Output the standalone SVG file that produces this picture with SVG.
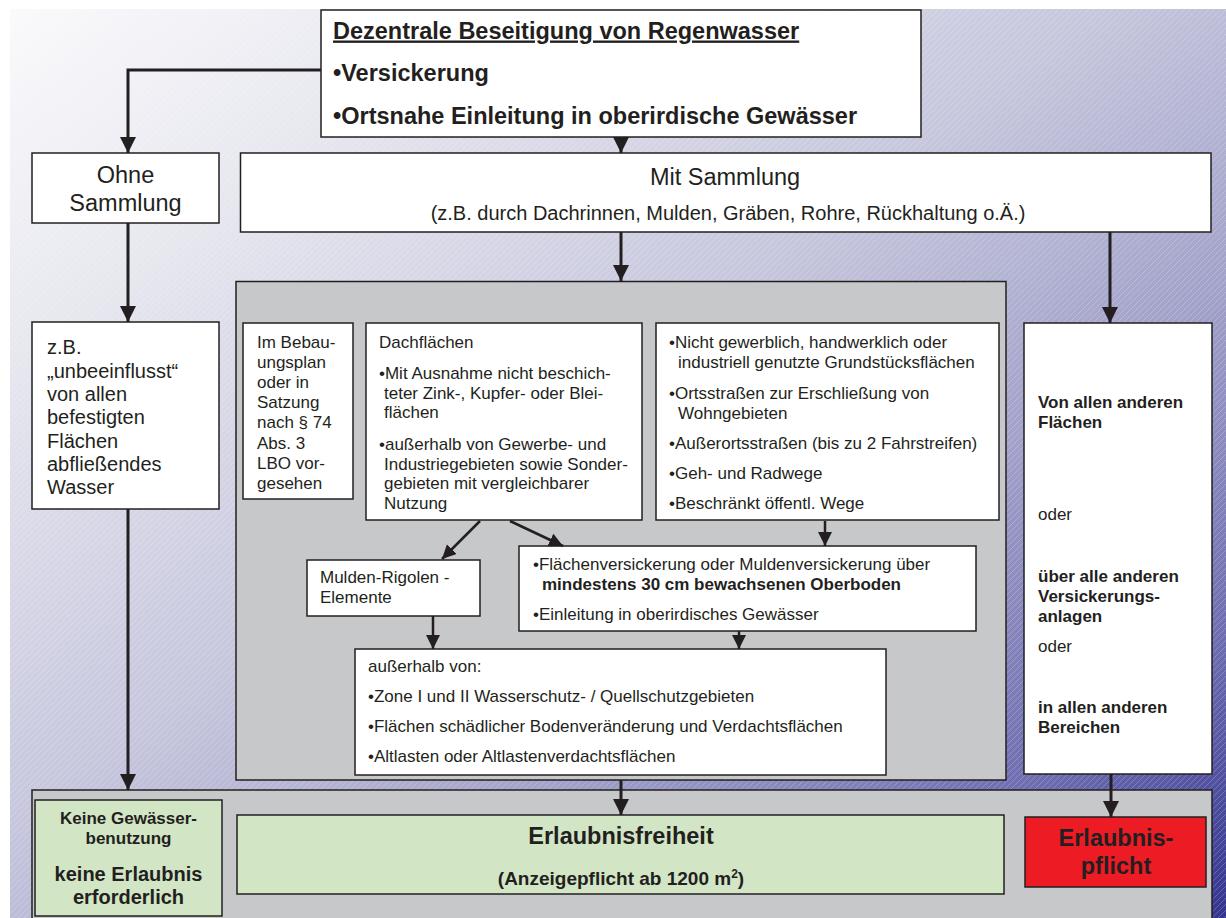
<svg xmlns="http://www.w3.org/2000/svg" width="1226" height="918" viewBox="0 0 1226 918">
<defs>
<linearGradient id="bgGrad" x1="0" y1="0" x2="1" y2="1">
<stop offset="0" stop-color="#fafafc"/>
<stop offset="0.2" stop-color="#e6e6ef"/>
<stop offset="0.45" stop-color="#c6c6dd"/>
<stop offset="0.65" stop-color="#a2a2ca"/>
<stop offset="0.85" stop-color="#6c6cb0"/>
<stop offset="1" stop-color="#34348f"/>
</linearGradient>
<pattern id="stripes" width="6" height="6" patternUnits="userSpaceOnUse">
<path d="M-1,1 L1,-1 M0,6 L6,0 M5,7 L7,5" stroke="#ffffff" stroke-opacity="0.3" stroke-width="0.7"/>
</pattern>
<marker id="arr" markerUnits="userSpaceOnUse" markerWidth="17" markerHeight="17" refX="16" refY="8" orient="auto" viewBox="0 0 17 17">
<path d="M0,0 L16,8 L0,16 z" fill="#231f20"/>
</marker>
<marker id="arrs" markerUnits="userSpaceOnUse" markerWidth="15" markerHeight="15" refX="14" refY="7" orient="auto" viewBox="0 0 15 15">
<path d="M0,0 L14,7 L0,14 z" fill="#231f20"/>
</marker>
<style>
.box{fill:#ffffff;stroke:#231f20;stroke-width:1.5}
.gray{fill:#c7c8ca;stroke:#231f20;stroke-width:1.5}
.green{fill:#d2e6c5;stroke:#231f20;stroke-width:1.5}
.red{fill:#ed1c24;stroke:#231f20;stroke-width:1.5}
text{font-family:"Liberation Sans",Arial,Helvetica,sans-serif;fill:#231f20}
.s{font-size:17px}
.m{font-size:20px}
.l{font-size:23.5px}
.b{font-weight:bold}
.c{text-anchor:middle}
.con{stroke:#231f20;stroke-width:3;fill:none}
.con2{stroke:#231f20;stroke-width:2.5;fill:none}
</style>
</defs>

<rect x="0" y="0" width="1226" height="918" fill="#ffffff"/>
<rect x="10" y="9" width="1216" height="909" fill="url(#bgGrad)"/>
<rect x="10" y="9" width="1216" height="909" fill="url(#stripes)"/>

<g id="panel-middle">
<rect class="gray" x="236" y="281.5" width="770" height="498.5"/>
</g>
<g id="panel-bottom">
<rect class="gray" x="32" y="790" width="1180" height="140"/>
</g>

<g id="node-top">
<rect class="box" x="321" y="10" width="600" height="127"/>
<text class="l b" x="333" y="38.5" text-decoration="underline">Dezentrale Beseitigung von Regenwasser</text>
<text class="l b" x="333" y="81">•Versickerung</text>
<text class="l b" x="333" y="124">•Ortsnahe Einleitung in oberirdische Gewässer</text>
</g>

<g id="node-ohne">
<rect class="box" x="32" y="153" width="187" height="70"/>
<text class="l c" x="125.5" y="183">Ohne</text>
<text class="l c" x="125.5" y="211">Sammlung</text>
</g>

<g id="node-mit">
<rect class="box" x="240.5" y="153" width="970.5" height="79"/>
<text class="l c" x="725" y="185">Mit Sammlung</text>
<text class="m c" x="728" y="220">(z.B. durch Dachrinnen, Mulden, Gräben, Rohre, Rückhaltung o.Ä.)</text>
</g>

<g id="node-zb">
<rect class="box" x="32" y="322" width="187" height="187"/>
<text class="m" x="47" y="354">z.B.</text>
<text class="m" x="47" y="378">„unbeeinflusst“</text>
<text class="m" x="47" y="401">von allen</text>
<text class="m" x="47" y="424">befestigten</text>
<text class="m" x="47" y="448">Flächen</text>
<text class="m" x="47" y="471">abfließendes</text>
<text class="m" x="47" y="494">Wasser</text>
</g>

<g id="node-bebauungsplan">
<rect class="box" x="243" y="323" width="110" height="176"/>
<text class="s" x="257" y="347.5">Im Bebau-</text>
<text class="s" x="257" y="367.7">ungsplan</text>
<text class="s" x="257" y="387.9">oder in</text>
<text class="s" x="257" y="408.1">Satzung</text>
<text class="s" x="257" y="428.3">nach § 74</text>
<text class="s" x="257" y="448.5">Abs. 3</text>
<text class="s" x="257" y="468.7">LBO vor-</text>
<text class="s" x="257" y="489">gesehen</text>
</g>

<g id="node-dachflaechen">
<rect class="box" x="366" y="323" width="276" height="197"/>
<text class="s" x="379" y="347.5">Dachflächen</text>
<text class="s" x="379" y="379">•Mit Ausnahme nicht beschich-</text>
<text class="s" x="384" y="398.5">teter Zink-, Kupfer- oder Blei-</text>
<text class="s" x="384" y="418">flächen</text>
<text class="s" x="379" y="450">•außerhalb von Gewerbe- und</text>
<text class="s" x="384" y="469.5">Industriegebieten sowie Sonder-</text>
<text class="s" x="384" y="489">gebieten mit vergleichbarer</text>
<text class="s" x="384" y="508.5">Nutzung</text>
</g>

<g id="node-grundstuecke">
<rect class="box" x="656" y="323" width="343" height="197"/>
<text class="s" x="669" y="348">•Nicht gewerblich, handwerklich oder</text>
<text class="s" x="678" y="368">industriell genutzte Grundstücksflächen</text>
<text class="s" x="669" y="398.5">•Ortsstraßen zur Erschließung von</text>
<text class="s" x="678" y="418.5">Wohngebieten</text>
<text class="s" x="669" y="449">•Außerortsstraßen (bis zu 2 Fahrstreifen)</text>
<text class="s" x="669" y="479">•Geh- und Radwege</text>
<text class="s" x="669" y="509">•Beschränkt öffentl. Wege</text>
</g>

<g id="node-mulden-rigolen">
<rect class="box" x="307" y="560" width="173" height="56"/>
<text class="s" x="320" y="583">Mulden-Rigolen -</text>
<text class="s" x="320" y="603">Elemente</text>
</g>

<g id="node-flaechenversickerung">
<rect class="box" x="519" y="546" width="457" height="85"/>
<text class="s" x="533" y="570">•Flächenversickerung oder Muldenversickerung über</text>
<text class="s b" x="542" y="589.5">mindestens 30 cm bewachsenen Oberboden</text>
<text class="s" x="533" y="619.5">•Einleitung in oberirdisches Gewässer</text>
</g>

<g id="node-ausserhalb">
<rect class="box" x="355" y="649" width="531" height="126"/>
<text class="s" x="368" y="672">außerhalb von:</text>
<text class="s" x="368" y="702">•Zone I und II Wasserschutz- / Quellschutzgebieten</text>
<text class="s" x="368" y="732">•Flächen schädlicher Bodenveränderung und Verdachtsflächen</text>
<text class="s" x="368" y="762">•Altlasten oder Altlastenverdachtsflächen</text>
</g>

<g id="node-andere">
<rect class="box" x="1024" y="323" width="188" height="451"/>
<text class="s b" x="1038" y="408">Von allen anderen</text>
<text class="s b" x="1038" y="428">Flächen</text>
<text class="s" x="1038" y="520">oder</text>
<text class="s b" x="1038" y="582">über alle anderen</text>
<text class="s b" x="1038" y="602">Versickerungs-</text>
<text class="s b" x="1038" y="622">anlagen</text>
<text class="s" x="1038" y="652">oder</text>
<text class="s b" x="1038" y="713">in allen anderen</text>
<text class="s b" x="1038" y="733">Bereichen</text>
</g>

<g id="node-keine">
<rect class="green" x="35" y="800" width="187" height="116"/>
<text class="s b c" x="128.5" y="824">Keine Gewässer-</text>
<text class="s b c" x="128.5" y="844">benutzung</text>
<text class="m b c" x="128.5" y="881">keine Erlaubnis</text>
<text class="m b c" x="128.5" y="904">erforderlich</text>
</g>

<g id="node-erlaubnisfreiheit">
<rect class="green" x="237" y="815" width="767" height="79"/>
<text class="l b c" x="621" y="844">Erlaubnisfreiheit</text>
<text class="b c" font-size="19" x="621" y="885">(Anzeigepflicht ab 1200 m<tspan font-size="12" dy="-7">2</tspan><tspan dy="7">)</tspan></text>
</g>

<g id="node-erlaubnispflicht">
<rect class="red" x="1025" y="817" width="181" height="70"/>
<text class="l b c" x="1116" y="846">Erlaubnis-</text>
<text class="l b c" x="1116" y="874">pflicht</text>
</g>

<g id="connectors">
<polyline class="con" points="321,70 128,70 128,153" marker-end="url(#arr)"/>
<line class="con" x1="621" y1="137" x2="621" y2="153" marker-end="url(#arr)"/>
<line class="con" x1="128" y1="223" x2="128" y2="322" marker-end="url(#arr)"/>
<line class="con" x1="128" y1="509" x2="128" y2="790" marker-end="url(#arr)"/>
<line class="con" x1="621" y1="232" x2="621" y2="281" marker-end="url(#arr)"/>
<line class="con" x1="1110" y1="232" x2="1110" y2="323" marker-end="url(#arr)"/>
<line class="con2" x1="480" y1="521" x2="442" y2="559" marker-end="url(#arrs)"/>
<line class="con2" x1="510" y1="521" x2="563" y2="546" marker-end="url(#arrs)"/>
<line class="con2" x1="825" y1="521" x2="825" y2="546" marker-end="url(#arrs)"/>
<line class="con2" x1="433" y1="616" x2="433" y2="649" marker-end="url(#arrs)"/>
<line class="con2" x1="739" y1="631" x2="739" y2="649" marker-end="url(#arrs)"/>
<line class="con" x1="621" y1="780" x2="621" y2="815" marker-end="url(#arr)"/>
<line class="con" x1="1111" y1="774" x2="1111" y2="817" marker-end="url(#arr)"/>
</g>
</svg>
